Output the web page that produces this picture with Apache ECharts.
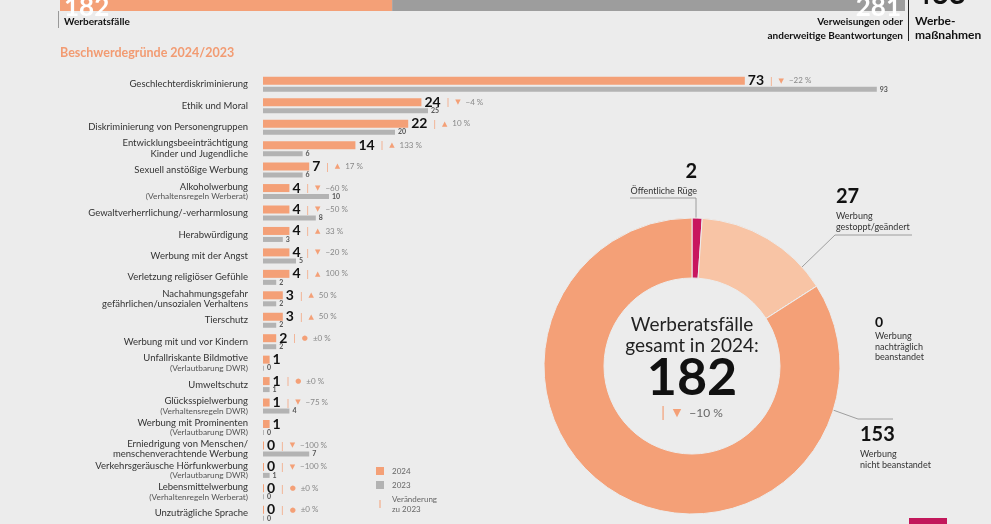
<!DOCTYPE html>
<html>
<head>
<meta charset="utf-8">
<script src="https://cdn.jsdelivr.net/npm/echarts@6/dist/echarts.min.js"></script>
<style>
html,body{margin:0;padding:0;background:#ececec;}
#c{width:991px;height:524px;}
</style>
</head>
<body>
<div id="c"></div>
<script>
// ---- data ----
const headerNames = ['Werberatsfälle', 'Verweisungen oder\nanderweitige Beantwortungen'];
const headerValues = [182, 281];
const headerTotalLabel = 'Werbe-\nmaßnahmen';

const categories = [
  'Geschlechterdiskriminierung',
  'Ethik und Moral',
  'Diskriminierung von Personengruppen',
  'Entwicklungsbeeinträchtigung\nKinder und Jugendliche',
  'Sexuell anstößige Werbung',
  'Alkoholwerbung\n(Verhaltensregeln Werberat)',
  'Gewaltverherrlichung/-verharmlosung',
  'Herabwürdigung',
  'Werbung mit der Angst',
  'Verletzung religiöser Gefühle',
  'Nachahmungsgefahr\ngefährlichen/unsozialen Verhaltens',
  'Tierschutz',
  'Werbung mit und vor Kindern',
  'Unfallriskante Bildmotive\n(Verlautbarung DWR)',
  'Umweltschutz',
  'Glücksspielwerbung\n(Verhaltensregeln DWR)',
  'Werbung mit Prominenten\n(Verlautbarung DWR)',
  'Erniedrigung von Menschen/\nmenschenverachtende Werbung',
  'Verkehrsgeräusche Hörfunkwerbung\n(Verlautbarung DWR)',
  'Lebensmittelwerbung\n(Verhaltenregeln Werberat)',
  'Unzuträgliche Sprache'
];
const values2024 = [73, 24, 22, 14, 7, 4, 4, 4, 4, 4, 3, 3, 2, 1, 1, 1, 1, 0, 0, 0, 0];
const values2023 = [93, 25, 20, 6, 6, 10, 8, 3, 5, 2, 2, 2, 2, 0, 1, 4, 0, 7, 1, 0, 0];
const changePct = [-22, -4, 10, 133, 17, -60, -50, 33, -20, 100, 50, 50, 0, null, 0, -75, null, -100, -100, 0, 0];

const donutNames = ['Öffentliche Rüge', 'Werbung\ngestoppt/geändert', 'Werbung\nnachträglich\nbeanstandet', 'Werbung\nnicht beanstandet'];
const donutValues = [2, 27, 0, 153];
const totalChangePct = -10;
const legendNames = ['2024', '2023', 'Veränderung\nzu 2023'];

// ---- styles ----
const ORANGE = '#f4a077';
const GRAY = '#b3b3b3';
const FONT = 'Lato, "Noto Sans", sans-serif';

function fmtPct(p) {
  if (p === 0) return '±0 %';
  if (p < 0) return '−' + Math.abs(p) + ' %';
  return p + ' %';
}
function arrow(p) { return p > 0 ? '▲' : (p < 0 ? '▼' : '●'); }

const chart = echarts.init(document.getElementById('c'));
const total = donutValues.reduce((a, b) => a + b, 0);

const donutLayouts = [
  {x: 697, y: 158, align: 'right', line: [[696, 219], [696, 198], [630, 198]]},
  {x: 836, y: 183, align: 'left', line: [[802, 267], [835, 235], [912, 235]]},
  {x: 875, y: 313, align: 'left', line: null},
  {x: 860, y: 421, align: 'left', line: [[833, 410], [858, 419], [893, 419]]}
];

const option = {
  backgroundColor: '#ececec',
  animation: false,
  textStyle: {fontFamily: FONT},
  legend: {
    orient: 'vertical', left: 376, top: 466, padding: 0,
    itemWidth: 8, itemHeight: 8, itemGap: 4,
    symbolKeepAspect: true,
    selectedMode: false,
    textStyle: {fontSize: 8, color: '#666', fontFamily: FONT, lineHeight: 10, padding: [0, 0, 0, 3]},
    data: [
      {name: legendNames[0], icon: 'rect'},
      {name: legendNames[1], icon: 'rect'},
      {name: legendNames[2], icon: 'path://M0,0H1V8H0Z'}
    ]
  },
  grid: [
    {left: 263, top: 73.6, width: 660, height: 456.75},
    {left: 60, right: 86, top: -20, height: 31}
  ],
  xAxis: [
    {type: 'value', min: 0, max: 100, show: false, gridIndex: 0},
    {type: 'value', min: 0, max: headerValues[0] + headerValues[1], show: false, gridIndex: 1}
  ],
  yAxis: [
    {
      type: 'category', inverse: true, data: categories, gridIndex: 0,
      axisLine: {show: false}, axisTick: {show: false}, splitLine: {show: false},
      axisLabel: {
        margin: 15, interval: 0,
        formatter: function (v) {
          return v.split('\n').map(l => l.charAt(0) === '(' ? '{s|' + l + '}' : '{m|' + l + '}').join('\n');
        },
        rich: {
          m: {fontSize: 9.5, color: '#333', lineHeight: 10.5, fontFamily: FONT, align: 'right'},
          s: {fontSize: 8.3, color: '#555', lineHeight: 9.5, fontFamily: FONT, align: 'right'}
        }
      }
    },
    {type: 'category', data: ['x'], show: false, gridIndex: 1}
  ],
  series: [
    {
      name: legendNames[0], type: 'bar', xAxisIndex: 0, yAxisIndex: 0,
      data: values2024, barWidth: 8, barGap: '25%', barMinHeight: 1,
      itemStyle: {color: ORANGE},
      label: {
        show: true, position: 'right', distance: 3,
        formatter: function (p) {
          const c = changePct[p.dataIndex];
          let s = '{v|' + p.value + '}';
          if (c !== null) s += '{sep||}{a|' + arrow(c) + '}{p|' + fmtPct(c) + '}';
          return s;
        },
        rich: {
          v: {fontSize: 14, fontWeight: 'bold', color: '#111', fontFamily: FONT},
          sep: {fontSize: 10, color: ORANGE, padding: [0, 6, 0, 6]},
          a: {fontSize: 7, color: ORANGE, padding: [0, 5, 0, 0], fontFamily: '"DejaVu Sans"'},
          p: {fontSize: 8, color: '#888', fontFamily: FONT}
        }
      }
    },
    {
      name: legendNames[1], type: 'bar', xAxisIndex: 0, yAxisIndex: 0,
      data: values2023, barWidth: 5, barMinHeight: 1,
      itemStyle: {color: GRAY},
      label: {show: true, position: 'right', distance: 3, fontSize: 7, fontWeight: 'bold', color: '#555'}
    },
    {
      name: legendNames[2], type: 'line', xAxisIndex: 0, yAxisIndex: 0, data: [],
      itemStyle: {color: ORANGE}, lineStyle: {color: ORANGE}
    },
    {
      name: headerNames[0], type: 'bar', stack: 'top', xAxisIndex: 1, yAxisIndex: 1,
      data: [headerValues[0]], barWidth: 31, itemStyle: {color: '#f4a077'},
      label: {show: true, position: 'insideLeft', offset: [-1, 2], color: '#fff', fontSize: 26, fontWeight: 'bold'}
    },
    {
      name: headerNames[1], type: 'bar', stack: 'top', xAxisIndex: 1, yAxisIndex: 1,
      data: [headerValues[1]], barWidth: 31, itemStyle: {color: '#9d9d9d'},
      label: {show: true, position: 'insideRight', offset: [1, 2], color: '#fff', fontSize: 26, fontWeight: 'bold'}
    },
    {
      name: 'donut', type: 'pie', center: [692, 366], radius: [88, 148],
      startAngle: 90, clockwise: true, avoidLabelOverlap: false,
      itemStyle: {borderColor: '#ececec', borderWidth: 1},
      data: donutValues.map((v, i) => ({
        value: v, name: donutNames[i],
        itemStyle: {color: ['#c8155e', '#f8c4a5', '#f4a077', '#f4a077'][i]},
        labelLine: {show: i !== 2}
      })),
      label: {
        show: true, position: 'outside',
        formatter: function (p) {
          const big = p.dataIndex === 2 ? 'n2' : 'n';
          return '{' + big + '|' + p.value + '}\n' + donutNames[p.dataIndex].split('\n').map(l => '{t|' + l + '}').join('\n');
        },
        rich: {
          n: {fontSize: 20, fontWeight: 'bold', color: '#111', lineHeight: 28, fontFamily: FONT},
          n2: {fontSize: 14, fontWeight: 'bold', color: '#111', lineHeight: 18, fontFamily: FONT},
          t: {fontSize: 9, color: '#333', lineHeight: 10.5, fontFamily: FONT}
        }
      },
      labelLine: {show: true, lineStyle: {color: '#8a8a8a', width: 0.8}},
      labelLayout: function (p) {
        const L = donutLayouts[p.dataIndex];
        const r = {x: L.x, y: L.y, align: L.align, verticalAlign: 'top'};
        if (L.line) r.labelLinePoints = L.line;
        return r;
      },
      emphasis: {disabled: true}
    }
  ],
  graphic: [
    {type: 'line', shape: {x1: 58.5, y1: 11, x2: 58.5, y2: 28}, style: {stroke: '#999', lineWidth: 1}},
    {type: 'line', shape: {x1: 908.5, y1: 0, x2: 908.5, y2: 41}, style: {stroke: '#222', lineWidth: 1}},
    {type: 'text', style: {text: headerNames[0], x: 64, y: 22, textVerticalAlign: 'middle', font: 'bold 10px ' + FONT, fill: '#111'}},
    {type: 'text', style: {text: headerNames[1], x: 903, y: 29, textAlign: 'right', textVerticalAlign: 'middle', font: 'bold 10px ' + FONT, fill: '#111', lineHeight: 14}},
    {type: 'text', style: {text: String(headerValues[0] + headerValues[1]), x: 914, y: -6, textVerticalAlign: 'middle', font: 'bold 30px ' + FONT, fill: '#111'}},
    {type: 'text', style: {text: headerTotalLabel, x: 915, y: 28, textVerticalAlign: 'middle', font: 'bold 12px ' + FONT, fill: '#111', lineHeight: 14}},
    {type: 'text', style: {text: 'Beschwerdegründe 2024/2023', x: 60, y: 53, textVerticalAlign: 'middle', font: 'bold 12.5px ' + FONT, fill: '#f29b72'}},
    {type: 'text', style: {text: 'Werberatsfälle\ngesamt in 2024:', x: 692, y: 335, textAlign: 'center', textVerticalAlign: 'middle', font: '19px ' + FONT, fill: '#222', lineHeight: 21}},
    {type: 'text', style: {text: String(total), x: 692, y: 378, textAlign: 'center', textVerticalAlign: 'middle', font: 'bold 52px ' + FONT, fill: '#111'}},
    {type: 'text', style: {
      text: '{s||}{a|' + arrow(totalChangePct) + '}{p|' + fmtPct(totalChangePct) + '}',
      x: 692, y: 413, textAlign: 'center', textVerticalAlign: 'middle',
      rich: {
        s: {fontSize: 14, fill: ORANGE, padding: [0, 8, 0, 0]},
        a: {fontSize: 11, fill: ORANGE, fontFamily: '"DejaVu Sans"', padding: [0, 8, 0, 0]},
        p: {fontSize: 12, fill: '#666', fontFamily: FONT}
      }
    }},
    {type: 'rect', shape: {x: 909, y: 518, width: 38, height: 10}, style: {fill: '#c2185b'}}
  ]
};
chart.setOption(option);
</script>
</body>
</html>
